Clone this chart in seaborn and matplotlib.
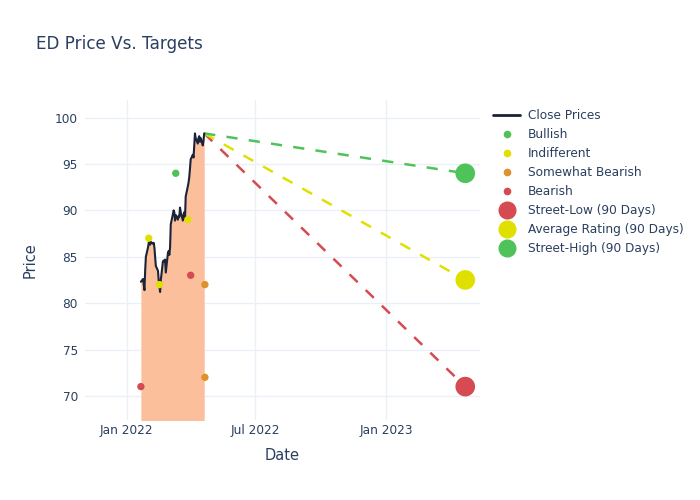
import pandas as pd
import matplotlib
matplotlib.use("Agg")
import matplotlib.pyplot as plt
import matplotlib.dates as mdates
from matplotlib.lines import Line2D
import seaborn as sns

# Close prices, one per trading day from 2022-01-21 to 2022-04-20
close_start = "2022-01-21"
close_prices = [82.3, 82.6, 82.0, 81.4, 83.5, 85.0, 86.0, 86.5, 86.8, 86.3,
                86.6, 86.4, 86.5, 86.0, 85.0, 84.0, 83.5, 82.5, 81.8, 81.2,
                82.5, 84.5, 84.6, 84.5, 84.7, 83.3, 85.4, 85.6, 85.2, 86.0,
                88.5, 89.6, 90.0, 89.8, 88.9, 89.5, 89.0, 89.4, 89.3, 90.3,
                89.8, 88.9, 89.5, 89.8, 89.1, 91.5, 92.6, 93.0, 93.6, 94.5,
                95.5, 96.0, 95.7, 97.0, 98.3, 97.8, 97.2, 97.8, 98.0, 97.4,
                97.8, 97.0, 97.5, 98.3]

# Analyst ratings
rating_dates = ["2022-01-21", "2022-02-01", "2022-02-16", "2022-03-11",
                "2022-03-28", "2022-04-01", "2022-04-21", "2022-04-21"]
rating_targets = [71, 87, 82, 94, 89, 83, 82, 72]
rating_kinds = ["Bearish", "Indifferent", "Indifferent", "Bullish",
                "Indifferent", "Bearish", "Somewhat Bearish", "Somewhat Bearish"]

# 90-day street targets
target_date = "2023-04-22"
target_names = ["Street-Low (90 Days)", "Average Rating (90 Days)", "Street-High (90 Days)"]
target_values = [71, 82.5, 94]

green = "#4fc35a"
yellow = "#e0e000"
orange = "#df912c"
red = "#d64a52"
kind_colors = {"Bullish": green, "Indifferent": yellow,
               "Somewhat Bearish": orange, "Bearish": red}
target_colors = [red, yellow, green]
text_color = "#2a3f5f"

close_df = pd.DataFrame({
    "date": pd.bdate_range(close_start, periods=len(close_prices)),
    "close": close_prices,
})
ratings = pd.DataFrame({
    "date": pd.to_datetime(rating_dates),
    "target": rating_targets,
    "kind": rating_kinds,
})

sns.set_style("white")
plt.rcParams["font.family"] = ["DejaVu Sans"]

fig = plt.figure(figsize=(7, 5), dpi=100)
ax = fig.add_axes([0.121, 0.16, 0.565, 0.64])

ax.fill_between(close_df["date"], close_df["close"], 60, color="#fbbf9c", lw=0, zorder=1)
sns.lineplot(data=close_df, x="date", y="close", ax=ax, color="#1c2238", lw=1.5, zorder=3)

last_date = close_df["date"].iloc[-1]
last_close = close_df["close"].iloc[-1]
tdate = pd.Timestamp(target_date)
for val, col in zip(target_values, target_colors):
    ax.plot([last_date, tdate], [last_close, val], color=col, lw=1.8,
            dashes=(4.5, 4.5), zorder=2)

sns.scatterplot(data=ratings, x="date", y="target", hue="kind", palette=kind_colors,
                s=28, linewidth=0, ax=ax, legend=False, zorder=4)
sns.scatterplot(x=[tdate] * 3, y=target_values, hue=target_names,
                palette=dict(zip(target_names, target_colors)),
                s=200, linewidth=0, ax=ax, legend=False, zorder=5)

ax.set_xlim(pd.Timestamp("2021-11-03"), pd.Timestamp("2023-05-13"))
ax.set_ylim(67.4, 101.9)
ax.set_yticks([70, 75, 80, 85, 90, 95, 100])
ax.xaxis.set_major_locator(mdates.MonthLocator(bymonth=[1, 7]))
ax.xaxis.set_major_formatter(mdates.DateFormatter("%b %Y"))
ax.grid(True, color="#ebf0f8", lw=1)
ax.set_axisbelow(True)
for sp in ax.spines.values():
    sp.set_visible(False)
ax.tick_params(length=0, labelsize=8.7, labelcolor=text_color)
ax.tick_params(axis="y", pad=5)
ax.tick_params(axis="x", pad=3)
ax.set_xlabel("Date", fontsize=10.5, color=text_color, labelpad=8)
ax.set_ylabel("Price", fontsize=10.5, color=text_color, labelpad=12)

fig.text(0.051, 0.912, "ED Price Vs. Targets", fontsize=12.1, color=text_color, va="center")

handles = [Line2D([], [], color="#1c2238", lw=2, label="Close Prices")]
for k in ["Bullish", "Indifferent", "Somewhat Bearish", "Bearish"]:
    handles.append(Line2D([], [], marker="o", ls="", color=kind_colors[k], ms=4.5, label=k))
for name, col in zip(target_names, target_colors):
    handles.append(Line2D([], [], marker="o", ls="", color=col, ms=12, label=name))
leg = fig.legend(handles=handles, loc="upper left", bbox_to_anchor=(0.698, 0.792),
                 frameon=False, fontsize=8.7, labelspacing=0.5, handlelength=2.2,
                 handletextpad=0.65, borderaxespad=0)
for t in leg.get_texts():
    t.set_color(text_color)

fig.savefig("out.png", dpi=100)
